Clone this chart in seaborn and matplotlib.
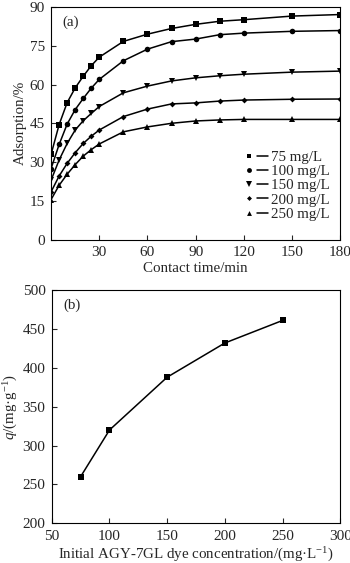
import numpy as np
import pandas as pd
import matplotlib
matplotlib.use("Agg")
import matplotlib.pyplot as plt
from matplotlib.lines import Line2D
from matplotlib.legend_handler import HandlerTuple
import seaborn as sns

# Contact-time series (adsorption %, one per initial dye concentration)
time_min = [0, 5, 10, 15, 20, 25, 30, 45, 60, 75, 90, 105, 120, 150, 180]
ads_75 = [33.0, 44.5, 53.0, 58.7, 63.2, 67.3, 70.6, 76.7, 79.5, 81.7, 83.3, 84.5, 85.1, 86.5, 87.1]
ads_100 = [27.5, 36.8, 44.7, 50.3, 54.6, 58.6, 62.0, 69.2, 73.7, 76.6, 77.6, 79.3, 79.9, 80.6, 80.9]
ads_150 = [23.0, 30.8, 37.2, 42.4, 46.0, 48.8, 51.5, 56.8, 59.4, 61.4, 62.6, 63.4, 64.0, 64.8, 65.2]
ads_200 = [18.5, 24.6, 29.5, 33.6, 37.2, 40.0, 42.4, 47.6, 50.5, 52.5, 52.9, 53.6, 54.0, 54.3, 54.4]
ads_250 = [15.5, 21.0, 25.3, 29.0, 32.3, 34.8, 37.0, 41.7, 43.6, 45.0, 45.9, 46.3, 46.5, 46.5, 46.5]
series_labels = ["75 mg/L", "100 mg/L", "150 mg/L", "200 mg/L", "250 mg/L"]

# Equilibrium uptake vs initial concentration
conc = [75, 100, 150, 200, 250]
q_e = [260, 320, 388, 432, 461]

sns.set_theme(style="ticks")
plt.rcParams["font.family"] = ["Liberation Serif", "DejaVu Serif"]
plt.rcParams["mathtext.fontset"] = "custom"
plt.rcParams["mathtext.rm"] = "Liberation Serif"
plt.rcParams["mathtext.it"] = "Liberation Serif:italic"
plt.rcParams["font.size"] = 11
plt.rcParams["axes.linewidth"] = 0.8
plt.rcParams["xtick.direction"] = "in"
plt.rcParams["ytick.direction"] = "in"

LABEL_FS = 10.8

fig = plt.figure(figsize=(3.5, 5.63), dpi=100)
ax1 = fig.add_axes([0.146, 0.5745, 0.826, 0.413])
ax2 = fig.add_axes([0.148, 0.0706, 0.824, 0.414])

markers = ["s", "o", "v", "D", "^"]
msizes = [4, 4, 4.2, 3, 4]
all_series = [ads_75, ads_100, ads_150, ads_200, ads_250]
handles = []
for vals, lab, mk, ms in zip(all_series, series_labels, markers, msizes):
    df = pd.DataFrame({"t": time_min, "a": vals})
    sns.lineplot(data=df, x="t", y="a", ax=ax1, color="black", lw=1.1,
                 marker=mk, markersize=ms, markeredgewidth=0, legend=False)
    h_mark = Line2D([], [], ls="none", marker=mk, markersize=ms - 0.5,
                    color="black", markeredgewidth=0)
    h_line = Line2D([], [], color="black", lw=1.1)
    handles.append((h_mark, h_line))

ax1.set_xlim(0, 180)
ax1.set_ylim(0, 90)
ax1.set_xticks([30, 60, 90, 120, 150, 180])
ax1.set_yticks(np.arange(0, 91, 15))
ax1.set_xlabel("Contact time/min", labelpad=2.5, fontsize=LABEL_FS)
ax1.set_ylabel("Adsorption/%", labelpad=2, fontsize=LABEL_FS)
ax1.tick_params(length=3.5, width=0.8, pad=4.5, labelsize=11)
ax1.text(0.04, 0.965, "(a)", transform=ax1.transAxes, ha="left", va="top", fontsize=LABEL_FS)
ax1.legend(handles, series_labels, loc="lower right",
           handler_map={tuple: HandlerTuple(ndivide=None, pad=0.15)},
           frameon=False, fontsize=10.8, handlelength=1.6, handletextpad=0.2,
           labelspacing=0.05, borderaxespad=0.3, bbox_to_anchor=(1.0, 0.035))

df_q = pd.DataFrame({"c": conc, "q": q_e})
sns.lineplot(data=df_q, x="c", y="q", ax=ax2, color="black", lw=1.1,
             marker="s", markersize=4.2, markeredgewidth=0, legend=False)
ax2.set_xlim(50, 300)
ax2.set_ylim(200, 500)
ax2.set_xticks(np.arange(50, 301, 50))
ax2.set_yticks(np.arange(200, 501, 50))
ax2.set_xlabel("Initial AGY-7GL dye concentration/(mg\u00b7L$^{-1}$)", labelpad=2,
               fontsize=LABEL_FS)
ax2.set_ylabel("$q$/(mg\u00b7g$^{-1}$)", labelpad=2, fontsize=LABEL_FS)
ax2.tick_params(length=3.5, width=0.8, pad=4.5, labelsize=11)
ax2.text(0.04, 0.965, "(b)", transform=ax2.transAxes, ha="left", va="top", fontsize=LABEL_FS)

for ax in (ax1, ax2):
    for s in ax.spines.values():
        s.set_color("black")
        s.set_visible(True)

fig.savefig("out.png", dpi=100)
